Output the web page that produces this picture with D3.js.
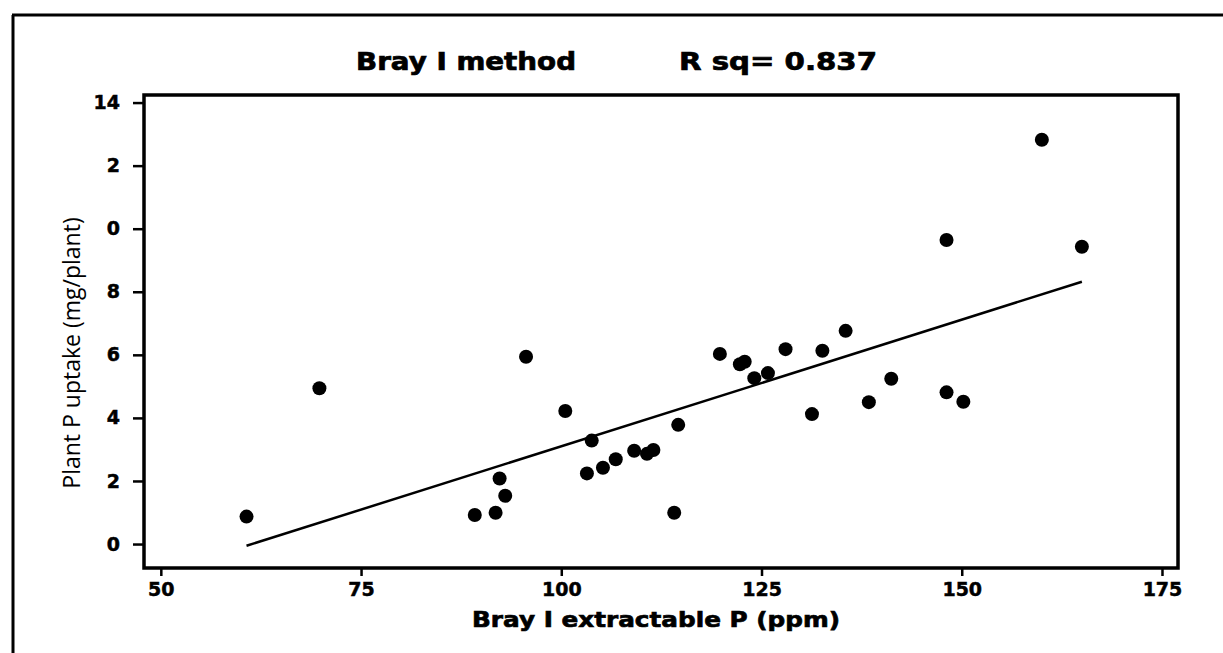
<!DOCTYPE html>
<html>
<head>
<meta charset="utf-8">
<script src="https://cdn.jsdelivr.net/npm/d3@7"></script>
<style>
  body { margin: 0; background: #fff; }
  svg { display: block; }
  .tick text { font-family: "DejaVu Sans", sans-serif; font-weight: bold; font-size: 19px; fill: #000; stroke: #000; stroke-width: 0.5px; }
  .heavy { font-family: "DejaVu Sans", sans-serif; font-weight: bold; fill: #000; stroke: #000; stroke-width: 0.7px; }
</style>
</head>
<body>
<script>
// data
var brayP = [60.7, 69.8, 89.2, 91.8, 92.3, 93.0, 95.6, 100.5, 103.2, 103.8, 105.2,
             106.8, 109.1, 110.7, 111.5, 114.1, 114.6, 119.8, 122.3, 122.9, 124.1,
             125.8, 128.0, 131.3, 132.6, 135.5, 138.4, 141.2, 148.1, 148.1, 150.2,
             160.0, 165.0];
var uptake = [0.87, 4.94, 0.92, 0.99, 2.08, 1.53, 5.94, 4.22, 2.24, 3.28, 2.42,
              2.69, 2.96, 2.86, 2.98, 0.99, 3.78, 6.03, 5.70, 5.78, 5.26,
              5.42, 6.18, 4.12, 6.13, 6.76, 4.50, 5.24, 4.81, 9.64, 4.51,
              12.82, 9.43];
var fitSlope = 0.0803, fitIntercept = -4.93;
var xTicks = [50, 75, 100, 125, 150, 175];
var yTicks = [0, 2, 4, 6, 8, 10, 12, 14];
var yTickLabels = ["0", "2", "4", "6", "8", "0", "2", "14"];

var width = 1223, height = 653;
var plotLeft = 144, plotRight = 1178, plotTop = 95, plotBottom = 568;

var svg = d3.select("body").append("svg")
    .attr("width", width)
    .attr("height", height);

// outer frame lines
svg.append("line").attr("x1", 12).attr("x2", width).attr("y1", 15).attr("y2", 15)
    .attr("stroke", "#000").attr("stroke-width", 3);
svg.append("line").attr("x1", 13).attr("x2", 13).attr("y1", 15).attr("y2", height)
    .attr("stroke", "#000").attr("stroke-width", 3);

var x = d3.scaleLinear().domain([47.9, 177.0]).range([plotLeft, plotRight]);
var y = d3.scaleLinear().domain([-0.76, 14.24]).range([plotBottom, plotTop]);

// x axis
var xAxis = svg.append("g")
    .attr("transform", "translate(0," + plotBottom + ")")
    .call(d3.axisBottom(x).tickValues(xTicks).tickSize(8).tickPadding(7));
xAxis.select(".domain").remove();
xAxis.selectAll(".tick line").attr("stroke-width", 2.5);

// y axis
var yAxis = svg.append("g")
    .attr("transform", "translate(" + plotLeft + ",0)")
    .call(d3.axisLeft(y).tickValues(yTicks).tickSize(11).tickPadding(13)
      .tickFormat(function(d, i){ return yTickLabels[i]; }));
yAxis.select(".domain").remove();
yAxis.selectAll(".tick line").attr("stroke-width", 2.5);

// plot frame
svg.append("rect")
    .attr("x", plotLeft).attr("y", plotTop)
    .attr("width", plotRight - plotLeft).attr("height", plotBottom - plotTop)
    .attr("fill", "none").attr("stroke", "#000").attr("stroke-width", 3.5);

// fitted line
var xMin = d3.min(brayP), xMax = d3.max(brayP);
svg.append("line")
    .attr("x1", x(xMin)).attr("y1", y(fitSlope * xMin + fitIntercept))
    .attr("x2", x(xMax)).attr("y2", y(fitSlope * xMax + fitIntercept))
    .attr("stroke", "#000").attr("stroke-width", 2.5);

// points
svg.append("g").selectAll("circle")
    .data(brayP)
  .enter().append("circle")
    .attr("cx", function(d){ return x(d); })
    .attr("cy", function(d, i){ return y(uptake[i]); })
    .attr("r", 7)
    .attr("fill", "#000");

// titles
svg.append("text")
    .attr("class", "heavy")
    .attr("x", 356).attr("y", 70)
    .attr("textLength", 220).attr("lengthAdjust", "spacingAndGlyphs")
    .style("font-size", "24px")
    .text("Bray I method");
svg.append("text")
    .attr("class", "heavy")
    .attr("x", 679).attr("y", 70)
    .attr("textLength", 198).attr("lengthAdjust", "spacingAndGlyphs")
    .style("font-size", "24px")
    .text("R sq= 0.837");

svg.append("text")
    .attr("class", "heavy")
    .attr("x", 472).attr("y", 627)
    .attr("textLength", 368).attr("lengthAdjust", "spacingAndGlyphs")
    .style("font-size", "22px")
    .text("Bray I extractable P (ppm)");

svg.append("text")
    .attr("transform", "translate(80,353) rotate(-90)")
    .attr("text-anchor", "middle")
    .style("font-family", "Open Sans, sans-serif")
    .style("font-size", "23px")
    .text("Plant P uptake (mg/plant)");
</script>
</body>
</html>
